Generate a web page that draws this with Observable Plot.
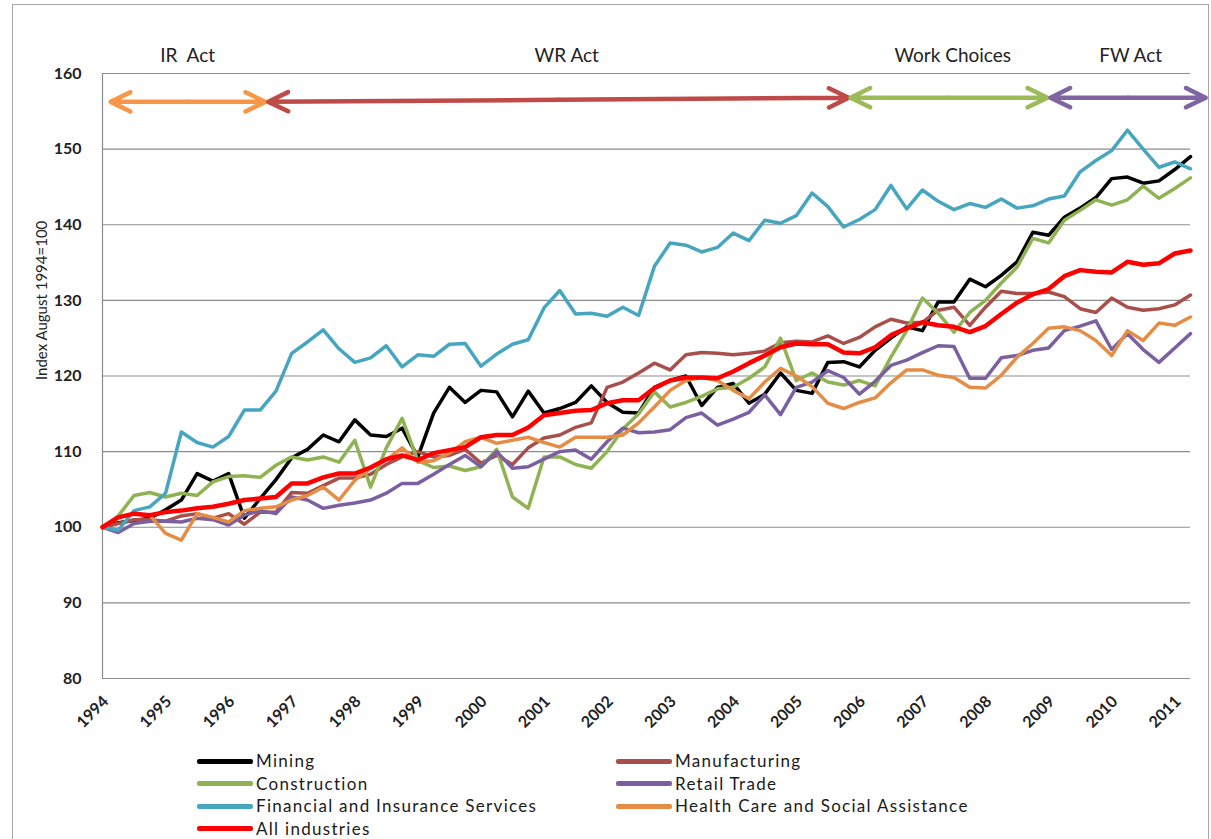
<!DOCTYPE html>
<html><head><meta charset="utf-8">
<script src="https://cdn.jsdelivr.net/npm/d3@7"></script>
<script src="https://cdn.jsdelivr.net/npm/@observablehq/plot@0.6"></script>
<style>
body{margin:0;background:#fff;font-family:Lato,"Open Sans",sans-serif;}
#frame{position:absolute;left:12px;top:4px;width:1197px;height:900px;border:1px solid #a6a6a6;box-sizing:border-box;}
#chart{position:absolute;left:0;top:0;}
#chart svg text{white-space:pre;}
#chart g[aria-label="period-label"] text{letter-spacing:1.3px;}
#chart g[aria-label="y-title"] text{letter-spacing:0.4px;}
#legend{position:absolute;left:197px;top:750px;display:grid;grid-template-columns:419px 420px;}
.item{display:flex;align-items:center;height:22.5px;font-size:17px;line-height:18px;letter-spacing:1.3px;color:#1a1a1a;white-space:nowrap;}
.sw{width:56px;height:5px;border-radius:2px;margin-right:3px;flex:none;}
</style></head><body>
<div id="frame"></div>
<div id="chart"></div>
<div id="legend"></div>
<script>
// Quarterly index, August 1994 = 100
const mining = [100,100.6,100.9,101.2,102.3,103.6,107.1,106.1,107.1,101.2,103.8,106.3,109.2,110.3,112.2,111.3,114.2,112.2,112,113.1,109.3,115.1,118.5,116.5,118.1,117.9,114.6,118,115.1,115.7,116.5,118.7,116.5,115.2,115.1,118.5,119.4,120,116.1,118.5,119,116.4,117.6,120.4,118.1,117.7,121.8,121.9,121.2,123.4,125,126.5,126,129.8,129.8,132.8,131.8,133.3,135.1,139,138.6,141,142.2,143.6,146.1,146.3,145.5,145.8,147.3,149];
const manufacturing = [100,100.5,101,101,100.8,101.5,101.8,101.2,101.8,100.4,102,102,104.6,104.5,105.5,106.5,106.5,107,108.3,109.3,110,109.3,109.5,110.3,108.5,109.5,108.3,110.5,111.8,112.2,113.2,113.8,118.5,119.2,120.4,121.7,120.8,122.8,123.1,123,122.8,123,123.3,124.4,124.6,124.5,125.3,124.3,125.1,126.5,127.5,127,127.1,128.7,129.1,126.7,129.1,131.2,130.9,130.9,131.1,130.5,128.9,128.4,130.3,129.1,128.7,128.9,129.4,130.7];
const construction = [100,101.5,104.2,104.6,104,104.5,104.2,106,106.7,106.8,106.6,108.2,109.3,108.9,109.3,108.6,111.5,105.3,110.5,114.4,108.8,107.9,108.1,107.5,108,110.3,104,102.5,109.3,109.3,108.3,107.8,110,113,115,117.9,115.9,116.5,117.3,118.3,118.5,119.7,121.2,125,119.4,120.4,119.2,118.8,119.4,118.7,122.5,126,130.3,128.3,125.8,128.4,130,132.3,134.4,138.2,137.6,140.6,141.9,143.3,142.6,143.3,145.1,143.5,144.8,146.2];
const retail = [100,99.3,100.5,100.8,100.8,100.7,101.2,101,100.3,101.6,102.2,101.8,104,103.6,102.5,102.9,103.2,103.6,104.5,105.8,105.8,107,108.3,109.5,108,110,107.8,108,109,110,110.2,109,111.3,113.1,112.5,112.6,112.9,114.5,115.1,113.5,114.3,115.2,117.5,114.9,118.5,119.2,120.7,119.8,117.6,119.3,121.4,122.1,123.1,124,123.9,119.7,119.7,122.4,122.7,123.4,123.7,126,126.6,127.3,123.5,125.6,123.5,121.8,123.7,125.6];
const financial = [100,99.6,102.2,102.7,104.5,112.6,111.2,110.6,112,115.5,115.5,118,123,124.5,126.1,123.6,121.8,122.4,124,121.2,122.8,122.6,124.2,124.3,121.3,122.9,124.2,124.8,129,131.3,128.2,128.3,127.9,129.1,128,134.5,137.6,137.3,136.4,137,138.9,137.9,140.6,140.2,141.2,144.2,142.4,139.7,140.7,142,145.2,142.1,144.6,143.1,142,142.8,142.3,143.4,142.2,142.5,143.4,143.8,147,148.5,149.8,152.5,150,147.6,148.3,147.4];
const health = [100,101.3,101.8,101.6,99.2,98.3,101.8,101.3,100.7,102.2,102.5,102.7,103.6,104.2,105.3,103.6,106.2,107.8,108.9,110.5,108.6,108.8,109.8,111.3,111.9,111.1,111.5,111.9,111.2,110.6,111.9,111.9,111.9,112.2,113.8,115.9,118.1,119.4,119.8,119.4,118.1,117,119.2,121,120,118.6,116.4,115.7,116.5,117.1,119.1,120.8,120.8,120.1,119.8,118.5,118.4,120.1,122.5,124.3,126.3,126.5,126,124.7,122.7,126,124.7,127,126.7,127.8];
const allIndustries = [100,101.3,101.8,101.6,102,102.2,102.5,102.7,103.1,103.6,103.8,104,105.8,105.8,106.6,107.1,107.1,107.9,109,109.5,108.9,109.8,110.2,110.6,111.9,112.2,112.2,113.2,114.8,115.1,115.4,115.5,116.4,116.8,116.8,118.4,119.4,119.8,119.8,119.7,120.6,121.7,122.7,123.8,124.3,124.2,124.2,123.1,123,123.8,125.4,126.3,127.1,126.7,126.5,125.8,126.6,128.2,129.7,130.8,131.5,133.2,134,133.8,133.7,135.1,134.7,134.9,136.2,136.6];

const seriesNames = ["Mining","Manufacturing","Construction","Retail Trade","Financial and Insurance Services","Health Care and Social Assistance","All industries"];
const seriesValues = [mining, manufacturing, construction, retail, financial, health, allIndustries];

const yTicks = [80,90,100,110,120,130,140,150,160];
const xTickYears = d3.range(1994, 2012);

// Industrial relations regimes (annotation arrows)
const periodNames = ["IR  Act","WR Act","Work Choices","FW Act"];
const periodStart = [1994.13, 1996.63, 2005.86, 2009.03];
const periodEnd = [1996.58, 2005.83, 2008.98, 2011.49];
const periodYStart = [156.25, 156.25, 156.8, 156.8];
const periodYEnd = [156.25, 156.8, 156.8, 156.8];
const periodLabelAt = [1995.35, 2001.36, 2007.48, 2010.3];

// styles
const seriesColors = ["#000000","#A84F4B","#8FB352","#7B60A1","#46A6BF","#E68D45","#FF0000"];
const seriesWidths = [3.5,3.5,3.5,3.5,3.5,3.5,4.5];
const periodColors = ["#F79646","#BE4B48","#9BBB59","#8064A2"];

const quarterT = i => 1994 + i / 4;

const marks = [
  Plot.gridY(yTicks, {stroke: "#8c8c8c", strokeOpacity: 1, strokeWidth: 1.2}),
  Plot.ruleX([1994], {y1: 80, y2: 160, stroke: "#8c8c8c", strokeWidth: 1.2}),
  Plot.axisY(yTicks, {tickSize: 0, tickPadding: 21, fontSize: 16, fontWeight: "bold", fill: "#222", label: null}),
  Plot.text(xTickYears, {x: d => d, frameAnchor: "bottom", text: d => String(d), rotate: -45, textAnchor: "end", dx: 7, dy: 24, fontSize: 16, fontWeight: "bold", fill: "#222"}),
  Plot.text(["Index August 1994=100"], {frameAnchor: "left", rotate: -90, dx: -60, dy: 4, fontSize: 15, fill: "#222", ariaLabel: "y-title"})
];

seriesNames.forEach((name, s) => {
  const rows = seriesValues[s].map((v, i) => ({t: quarterT(i), v}));
  marks.push(Plot.line(rows, {x: "t", y: "v", stroke: seriesColors[s], strokeWidth: seriesWidths[s], strokeLinejoin: "round", strokeLinecap: "round"}));
});

periodNames.forEach((name, i) => {
  const xm = (periodStart[i] + periodEnd[i]) / 2, ym = (periodYStart[i] + periodYEnd[i]) / 2;
  const halves = [
    {x1: xm, y1: ym, x2: periodStart[i], y2: periodYStart[i]},
    {x1: xm, y1: ym, x2: periodEnd[i], y2: periodYEnd[i]}
  ];
  marks.push(Plot.arrow(halves, {x1: "x1", y1: "y1", x2: "x2", y2: "y2", stroke: periodColors[i], strokeWidth: 4.5, headLength: 7.3, headAngle: 52, strokeLinejoin: "round", strokeLinecap: "round"}));
});
marks.push(Plot.text(d3.range(periodNames.length), {x: i => periodLabelAt[i], text: i => periodNames[i], frameAnchor: "top", dy: -25, fontSize: 19, fill: "#222", ariaLabel: "period-label"}));

const chart = Plot.plot({
  width: 1211, height: 745,
  marginLeft: 102, marginRight: 21, marginTop: 73, marginBottom: 67,
  x: {domain: [1994, quarterT(mining.length - 1)], axis: null},
  y: {domain: [80, 160], axis: null},
  style: {fontFamily: "Lato, 'Open Sans', sans-serif", background: "transparent", overflow: "visible"},
  marks
});
document.getElementById("chart").appendChild(chart);

const legend = document.getElementById("legend");
seriesNames.forEach((name, s) => {
  const item = document.createElement("div");
  item.className = "item";
  const sw = document.createElement("span");
  sw.className = "sw";
  sw.style.background = seriesColors[s];
  item.appendChild(sw);
  const label = document.createElement("span");
  label.textContent = name;
  item.appendChild(label);
  legend.appendChild(item);
});
</script></body></html>
